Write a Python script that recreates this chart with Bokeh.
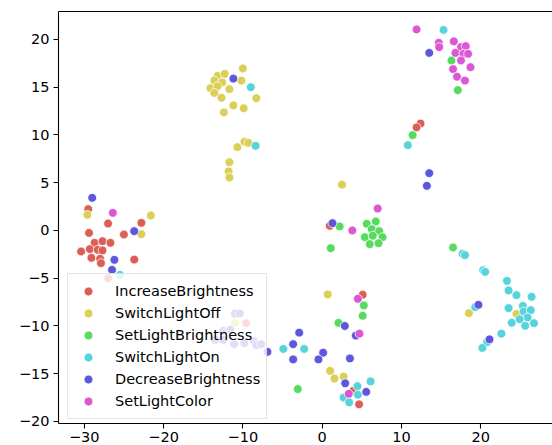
from bokeh.plotting import figure
from bokeh.models import LinearAxis, FixedTicker, Range1d, Legend, LegendItem
from bokeh.embed import file_html
from bokeh.resources import INLINE

categories = ["IncreaseBrightness", "SwitchLightOff", "SetLightBrightness",
              "SwitchLightOn", "DecreaseBrightness", "SetLightColor"]
colors = ["#db5f57", "#dbd057", "#57db5f", "#57d3db", "#5f57db", "#db57d3"]

inc_x = [-29.5, -27.0, -22.8, -25.0, -29.4, -28.7, -27.7, -26.7, -30.4, -29.3, -28.3, -27.7,
         -29.1, -28.0, -27.9, -23.7, -27.0, 0.96, 12.4, 11.9, -9.6, 5.1, 3.9, 4.65]
inc_y = [2.23, 0.73, 0.8, -0.42, -0.25, -1.29, -1.12, -1.29, -2.2, -1.95, -2.02, -2.09,
         -2.86, -2.96, -3.42, -3.04, -5.0, 0.49, 11.2, 10.8, -9.7, -6.73, -16.8, -18.2]

off_x = [-29.6, -21.6, -22.8, -10.0, -13.2, -12.3, -10.2, -13.6, -12.6, -14.1, -13.2, -13.6,
         -11.7, -12.7, -8.3, -11.2, -9.9, -12.4, -9.8, -9.3, -10.7, -11.7, -11.8, -11.7,
         2.5, -11.0, 0.7, 1.0, 1.55, 2.7, 18.5, 24.5]
off_y = [1.64, 1.57, -0.38, 16.96, 16.2, 16.4, 15.7, 15.7, 15.5, 14.9, 15.1, 14.4,
         14.8, 13.9, 13.85, 13.1, 12.8, 12.36, 9.29, 9.18, 8.73, 7.15, 6.18, 5.55,
         4.8, -9.67, -6.7, -14.7, -15.5, -15.3, -8.66, -8.73]

bri_x = [16.3, 17.1, 2.2, 6.76, 5.62, 6.25, 7.19, 5.37, 6.38, 7.6, 6.0, 7.1,
         1.08, 5.25, 5.1, 2.05, -3.08, 16.5, 11.4]
bri_y = [17.8, 14.7, 0.42, 0.94, 0.70, 0.14, -0.07, -0.70, -0.55, -0.70, -1.43, -1.33,
         -1.85, -7.85, -8.93, -9.67, -16.6, -1.78, 9.98]

on_x = [-9.0, -8.4, 15.3, -25.5, -4.9, -2.27, 6.1, 4.45, 4.5, 2.7, 3.4, 10.8,
        17.7, 18.0, 20.3, 20.55, 23.3, 23.5, 24.5, 26.4, 19.3, 23.5, 25.3, 25.4,
        26.3, 25.9, 24.9, 23.9, 25.6, 26.7, 22.6, 20.8, 20.2]
on_y = [15.0, 8.87, 21.0, -4.64, -12.4, -12.4, -15.8, -16.3, -17.2, -17.5, -18.0, 8.93,
        -2.44, -2.58, -4.16, -4.33, -5.27, -6.28, -6.77, -6.94, -8.03, -8.13, -7.9, -8.48,
        -8.35, -9.11, -9.29, -9.66, -9.98, -9.71, -10.8, -11.7, -12.3]

dec_x = [-29.0, -23.7, -26.2, -26.5, -11.2, 13.5, 1.3, 13.5, 13.2, 2.85, -2.9, 4.24,
         -3.66, 0.12, -3.66, -0.47, 3.5, 2.9, 5.55, 19.7, 21.1,
         -11.0, -10.4, -12.5, -11.6, -13.5, -12.5, -11.1, -9.8, -8.6, -8.3, -7.7, -6.9]
dec_y = [3.42, -0.07, -3.07, -4.12, 15.9, 18.6, 0.77, 6.0, 4.68, -10.0, -10.7, -11.0,
         -11.9, -12.8, -13.5, -13.5, -13.4, -16.0, -16.9, -7.78, -11.4,
         -8.7, -8.7, -10.5, -10.4, -11.45, -11.45, -11.9, -11.8, -11.6, -12.0, -11.9, -12.7]

col_x = [-26.4, 11.9, 14.7, 14.75, 16.6, 17.5, 18.1, 16.8, 17.8, 18.4, 17.5, 18.7,
         16.5, 17.0, 18.0, 7.0, 3.8, 4.5, 4.7, 3.35]
col_y = [1.85, 21.05, 19.65, 19.2, 19.8, 19.2, 19.3, 18.6, 18.5, 18.5, 17.8, 17.1,
         16.9, 16.1, 15.7, 2.3, 0.0, -7.15, -10.8, -17.1]

series = [(inc_x, inc_y), (off_x, off_y), (bri_x, bri_y),
          (on_x, on_y), (dec_x, dec_y), (col_x, col_y)]

x_ticks = [-30, -20, -10, 0, 10, 20]
y_ticks = [-20, -15, -10, -5, 0, 5, 10, 15, 20]

FONT = "DejaVu Sans"
FSIZE = "14.5px"

p = figure(width=552, height=445, output_backend="svg", toolbar_location=None,
           x_range=Range1d(-33.25, 29.04), y_range=Range1d(-20.21, 22.93),
           min_border_left=58, min_border_right=0, min_border_top=11, min_border_bottom=22)
p.outline_line_color = None
p.xgrid.grid_line_color = None
p.ygrid.grid_line_color = None
p.background_fill_color = "white"
p.border_fill_color = "white"


def style_axis(ax, ticks):
    ax.ticker = FixedTicker(ticks=ticks)
    ax.major_label_overrides = {t: str(t).replace("-", "\u2212") for t in ticks}
    ax.axis_line_color = "black"
    ax.axis_line_width = 1.1
    ax.major_tick_line_color = "black"
    ax.major_tick_line_width = 1.1
    ax.major_tick_out = 5
    ax.major_tick_in = 0
    ax.minor_tick_line_color = None
    ax.major_label_text_font = FONT
    ax.major_label_text_font_size = FSIZE
    ax.major_label_text_color = "black"
    ax.major_label_standoff = 4


style_axis(p.xaxis[0], x_ticks)
style_axis(p.yaxis[0], y_ticks)
p.xaxis[0].major_label_standoff = 3

top = LinearAxis(ticker=FixedTicker(ticks=[]), axis_line_color="black", axis_line_width=1.1,
                 major_tick_out=0, major_tick_in=0, minor_tick_out=0, minor_tick_in=0,
                 major_label_text_font_size="0px", major_label_standoff=0,
                 major_tick_line_color=None, minor_tick_line_color=None)
p.add_layout(top, "above")

items = []
for name, color, (xs, ys) in zip(categories, colors, series):
    r = p.scatter(x=xs, y=ys, size=8.8, fill_color=color, fill_alpha=1.0,
                  line_color="white", line_width=0.75)
    items.append(LegendItem(label=name, renderers=[r]))

legend = Legend(items=items, location=(9, 4))
legend.label_text_font = FONT
legend.label_text_font_size = FSIZE
legend.label_text_color = "black"
legend.glyph_width = 28
legend.glyph_height = 22
legend.label_height = 22
legend.spacing = 0
legend.label_standoff = 13
legend.padding = 6
legend.margin = 0
legend.border_line_color = "#cccccc"
legend.border_line_width = 1
legend.background_fill_color = "white"
legend.background_fill_alpha = 0.8
p.add_layout(legend)

open("out.html", "w").write(file_html(p, INLINE))
